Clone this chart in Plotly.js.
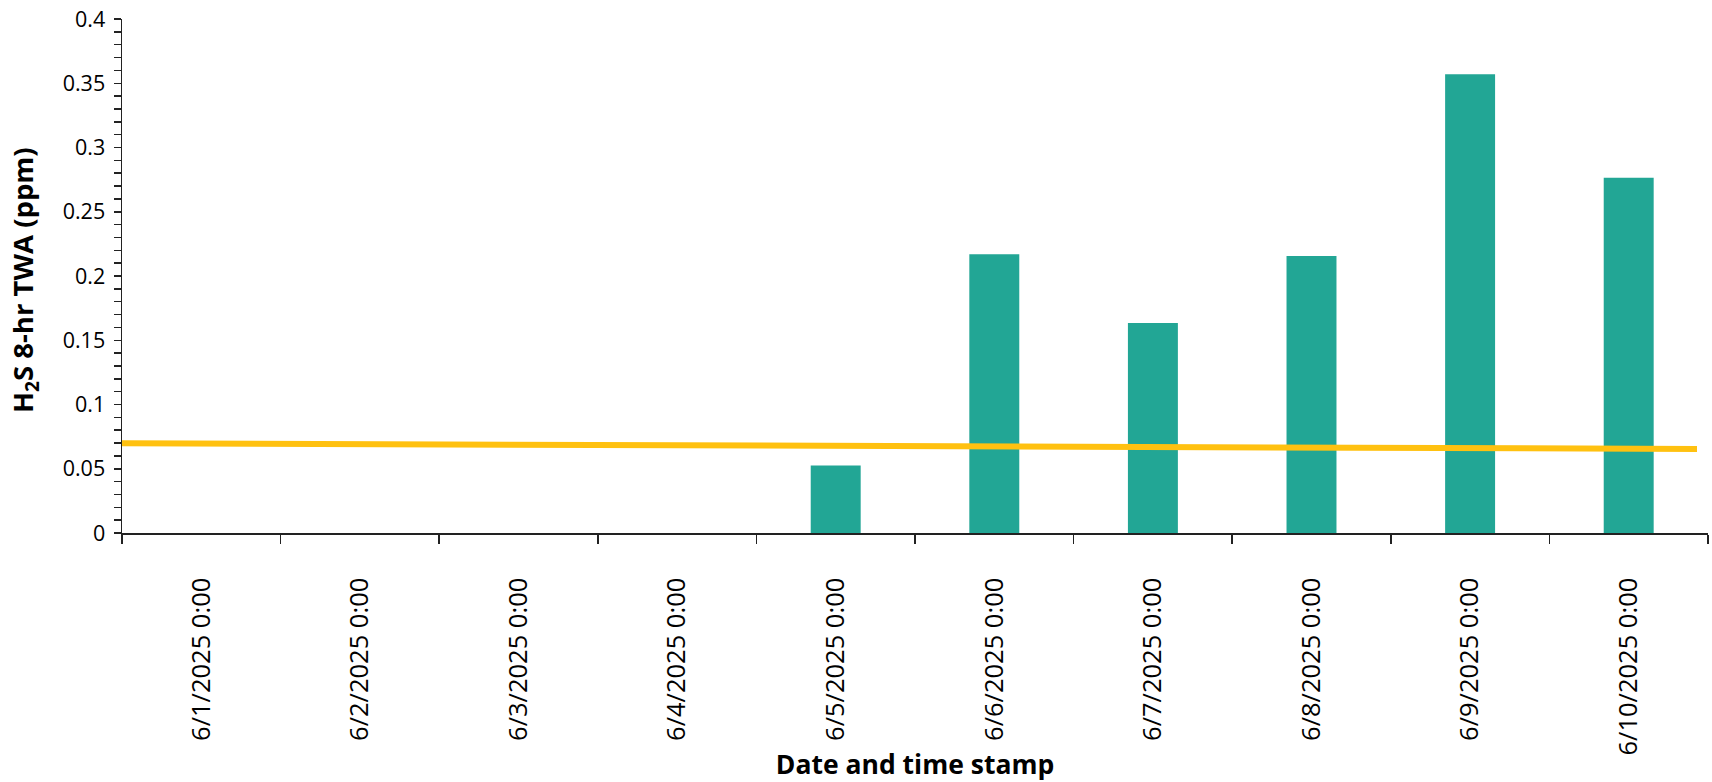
<!DOCTYPE html>
<html>
<head>
<meta charset="utf-8">
<script src="https://cdn.plot.ly/plotly-3.0.1.min.js"></script>
<style>
html,body{margin:0;padding:0;background:#fff;}
#chart{width:1712px;height:782px;}
</style>
</head>
<body>
<div id="chart"></div>
<script>
const categories = ["6/1/2025 0:00","6/2/2025 0:00","6/3/2025 0:00","6/4/2025 0:00","6/5/2025 0:00",
                    "6/6/2025 0:00","6/7/2025 0:00","6/8/2025 0:00","6/9/2025 0:00","6/10/2025 0:00"];
const twaValues = [null, null, null, null, 0.0525, 0.217, 0.1635, 0.2155, 0.357, 0.2765];
const refLineTimes = ["2025-06-01 00:00", "2025-06-10 22:20"];
const refLineValues = [0.0698, 0.0654];
const yTickVals = [0, 0.05, 0.1, 0.15, 0.2, 0.25, 0.3, 0.35, 0.4];
const yTickText = ["0","0.05","0.1","0.15","0.2","0.25","0.3","0.35","0.4"];
const yTitle = "H<sub>2</sub>S 8-hr TWA (ppm)";
const xTitle = "Date and time stamp";

const font = "Open Sans, Noto Sans, sans-serif";

const traces = [
  {
    type: "bar",
    x: categories,
    y: twaValues,
    marker: {color: "#22A695"},
    xaxis: "x", yaxis: "y",
    hoverinfo: "x+y"
  },
  {
    type: "scatter",
    mode: "lines",
    x: refLineTimes,
    y: refLineValues,
    line: {color: "#FFC110", width: 6},
    xaxis: "x2", yaxis: "y",
    hoverinfo: "y"
  }
];

const layout = {
  width: 1712, height: 782,
  margin: {l: 122, r: 4, t: 19, b: 249},
  paper_bgcolor: "#fff", plot_bgcolor: "#fff",
  showlegend: false,
  bargap: 0.685,
  font: {family: font, color: "#000"},
  xaxis: {
    type: "category",
    categoryorder: "array",
    categoryarray: categories,
    range: [-0.5, 9.5],
    showgrid: false, zeroline: false,
    showline: true, linecolor: "#222", linewidth: 1.5,
    ticks: "outside", ticklen: 9, tickwidth: 1.5, tickcolor: "#222",
    tickson: "boundaries",
    tickangle: -90,
    ticklabelstandoff: 33,
    tickfont: {family: font, size: 25.5, color: "#000"},
    title: {text: xTitle, font: {family: font, size: 26.5, weight: "bold", color: "#000"}, standoff: 3}
  },
  xaxis2: {
    type: "date",
    overlaying: "x",
    range: ["2025-06-01 00:00", "2025-06-11 00:00"],
    visible: false
  },
  yaxis: {
    range: [0, 0.4],
    tickvals: yTickVals,
    ticktext: yTickText,
    showgrid: false, zeroline: false,
    showline: true, linecolor: "#222", linewidth: 1.5,
    ticks: "outside", ticklen: 7, tickwidth: 1.5, tickcolor: "#222",
    ticklabelstandoff: 4,
    minor: {dtick: 0.01, tick0: 0, ticks: "outside", ticklen: 7, tickwidth: 1.5, tickcolor: "#222", showgrid: false},
    tickfont: {family: font, size: 21.5, color: "#000"}
  },
  annotations: [{
    text: yTitle,
    xref: "paper", yref: "paper",
    x: -0.0618, y: 0.492,
    xanchor: "center", yanchor: "middle",
    textangle: -90,
    showarrow: false,
    font: {family: font, size: 27.5, weight: "bold", color: "#000"}
  }]
};

Plotly.newPlot("chart", traces, layout, {displayModeBar: false, staticPlot: true});
</script>
</body>
</html>
